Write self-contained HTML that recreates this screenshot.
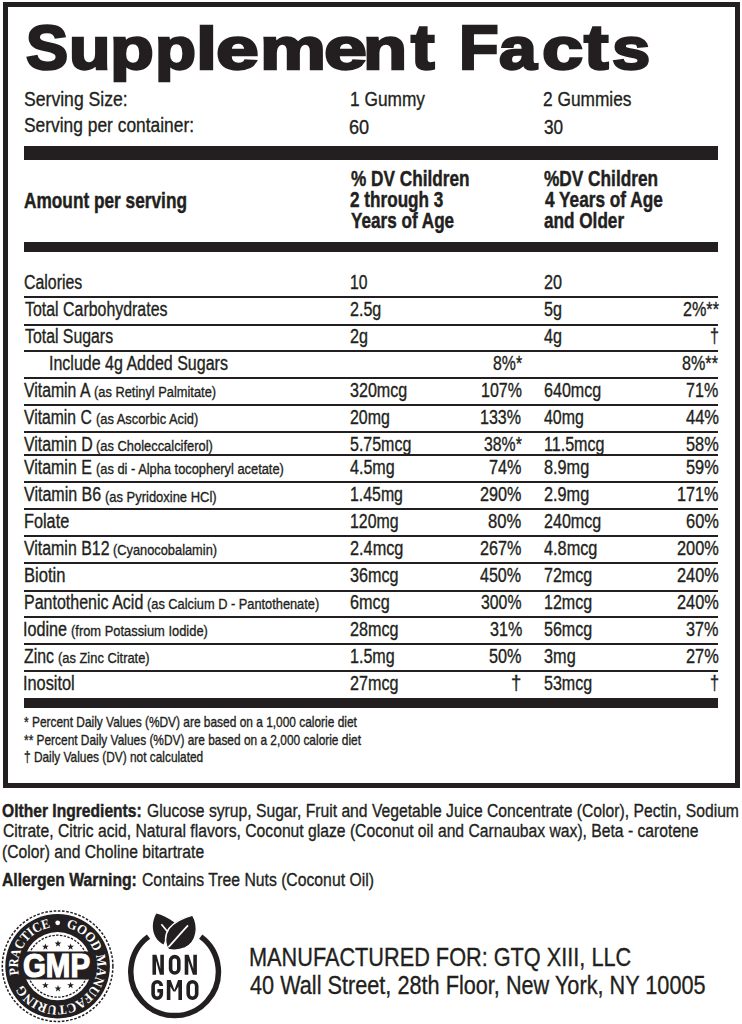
<!DOCTYPE html>
<html><head><meta charset="utf-8">
<style>
html,body{margin:0;padding:0;background:#fff;}
body{width:742px;height:1024px;position:relative;overflow:hidden;font-family:"Liberation Sans",sans-serif;color:#231f20;}
.t{position:absolute;white-space:nowrap;transform-origin:0 0;line-height:1;}
.b{font-weight:700;}
.r{position:absolute;background:#231f20;}
</style></head><body>

<div style="position:absolute;left:3px;top:2px;width:737px;height:786px;box-sizing:border-box;border:5px solid #231f20;"></div>
<div class="r" style="left:24px;top:146px;width:694px;height:14px;"></div>
<div class="r" style="left:24px;top:242px;width:694px;height:10px;"></div>
<div class="r" style="left:24px;top:698px;width:694px;height:10px;"></div>
<div class="r" style="left:24px;top:296.4px;width:694px;height:2px;"></div>
<div class="r" style="left:24px;top:323.7px;width:694px;height:2px;"></div>
<div class="r" style="left:24px;top:350.1px;width:694px;height:2px;"></div>
<div class="r" style="left:24px;top:377.4px;width:694px;height:2px;"></div>
<div class="r" style="left:24px;top:404.4px;width:694px;height:2px;"></div>
<div class="r" style="left:24px;top:431.3px;width:694px;height:2px;"></div>
<div class="r" style="left:24px;top:454.3px;width:694px;height:2px;"></div>
<div class="r" style="left:24px;top:481.4px;width:694px;height:2px;"></div>
<div class="r" style="left:24px;top:508.4px;width:694px;height:2px;"></div>
<div class="r" style="left:24px;top:535.3px;width:694px;height:2px;"></div>
<div class="r" style="left:24px;top:562.3px;width:694px;height:2px;"></div>
<div class="r" style="left:24px;top:589.5px;width:694px;height:2px;"></div>
<div class="r" style="left:24px;top:616.4px;width:694px;height:2px;"></div>
<div class="r" style="left:24px;top:643.3px;width:694px;height:2px;"></div>
<div class="r" style="left:24px;top:670.3px;width:694px;height:2px;"></div>
<div id="i0" class="t b" style="left:25.75px;top:15.53px;font-size:62.50px;transform:scaleX(1.0106);-webkit-text-stroke:2.50px #231f20;">S</div>
<div id="i1" class="t b" style="left:68.54px;top:15.53px;font-size:62.50px;transform:scale(1.0869,0.9500);transform-origin:0 52.92px;-webkit-text-stroke:2.50px #231f20;">u</div>
<div id="i2" class="t b" style="left:110.25px;top:15.53px;font-size:62.50px;transform:scale(1.1485,0.9500);transform-origin:0 52.92px;-webkit-text-stroke:2.50px #231f20;">p</div>
<div id="i3" class="t b" style="left:155.45px;top:15.53px;font-size:62.50px;transform:scale(1.0753,0.9500);transform-origin:0 52.92px;-webkit-text-stroke:2.50px #231f20;">p</div>
<div id="i4" class="t b" style="left:196.37px;top:15.53px;font-size:62.50px;transform:scale(1.2093,0.9500);transform-origin:0 52.92px;-webkit-text-stroke:2.50px #231f20;">l</div>
<div id="i5" class="t b" style="left:216.09px;top:15.53px;font-size:62.50px;transform:scale(1.2321,0.9500);transform-origin:0 52.92px;-webkit-text-stroke:2.50px #231f20;">e</div>
<div id="i6" class="t b" style="left:259.83px;top:15.53px;font-size:62.50px;transform:scale(1.1888,0.9500);transform-origin:0 52.92px;-webkit-text-stroke:2.50px #231f20;">m</div>
<div id="i7" class="t b" style="left:323.51px;top:15.53px;font-size:62.50px;transform:scale(1.2339,0.9500);transform-origin:0 52.92px;-webkit-text-stroke:2.50px #231f20;">e</div>
<div id="i8" class="t b" style="left:362.60px;top:15.53px;font-size:62.50px;transform:scale(1.1560,0.9500);transform-origin:0 52.92px;-webkit-text-stroke:2.50px #231f20;">n</div>
<div id="i9" class="t b" style="left:410.57px;top:15.53px;font-size:62.50px;transform:scaleX(1.1319);-webkit-text-stroke:2.50px #231f20;">t</div>
<div id="i10" class="t b" style="left:458.75px;top:15.53px;font-size:62.50px;transform:scaleX(1.0373);-webkit-text-stroke:2.50px #231f20;">F</div>
<div id="i11" class="t b" style="left:499.37px;top:15.53px;font-size:62.50px;transform:scale(1.0888,0.9500);transform-origin:0 52.92px;-webkit-text-stroke:2.50px #231f20;">a</div>
<div id="i12" class="t b" style="left:542.21px;top:15.53px;font-size:62.50px;transform:scale(1.1838,0.9500);transform-origin:0 52.92px;-webkit-text-stroke:2.50px #231f20;">c</div>
<div id="i13" class="t b" style="left:584.01px;top:15.53px;font-size:62.50px;transform:scaleX(1.1775);-webkit-text-stroke:2.50px #231f20;">t</div>
<div id="i14" class="t b" style="left:611.76px;top:15.53px;font-size:62.50px;transform:scale(1.1019,0.9500);transform-origin:0 52.92px;-webkit-text-stroke:2.50px #231f20;">s</div>
<div id="i15" class="t" style="left:23.65px;top:87.52px;font-size:21.00px;transform:scaleX(0.8382);-webkit-text-stroke:0.35px #231f20;">Serving Size:</div>
<div id="i16" class="t" style="left:24.08px;top:113.92px;font-size:21.00px;transform:scaleX(0.8276);-webkit-text-stroke:0.35px #231f20;">Serving per container:</div>
<div id="i17" class="t" style="left:349.92px;top:87.82px;font-size:21.00px;transform:scaleX(0.8237);-webkit-text-stroke:0.35px #231f20;">1 Gummy</div>
<div id="i18" class="t" style="left:349.04px;top:115.72px;font-size:21.00px;transform:scaleX(0.8621);-webkit-text-stroke:0.35px #231f20;">60</div>
<div id="i19" class="t" style="left:543.16px;top:87.82px;font-size:21.00px;transform:scaleX(0.8239);-webkit-text-stroke:0.35px #231f20;">2 Gummies</div>
<div id="i20" class="t" style="left:544.36px;top:115.72px;font-size:21.00px;transform:scaleX(0.8203);-webkit-text-stroke:0.35px #231f20;">30</div>
<div id="i21" class="t b" style="left:24.37px;top:189.61px;font-size:21.60px;transform:scaleX(0.7991);-webkit-text-stroke:0.45px #231f20;">Amount per serving</div>
<div id="i22" class="t b" style="left:350.62px;top:168.41px;font-size:21.60px;transform:scaleX(0.7971);-webkit-text-stroke:0.45px #231f20;">% DV Children</div>
<div id="i23" class="t b" style="left:350.37px;top:189.11px;font-size:21.60px;transform:scaleX(0.7941);-webkit-text-stroke:0.45px #231f20;">2 through 3</div>
<div id="i24" class="t b" style="left:350.69px;top:210.21px;font-size:21.60px;transform:scaleX(0.7932);-webkit-text-stroke:0.45px #231f20;">Years of Age</div>
<div id="i25" class="t b" style="left:544.42px;top:168.41px;font-size:21.60px;transform:scaleX(0.7989);-webkit-text-stroke:0.45px #231f20;">%DV Children</div>
<div id="i26" class="t b" style="left:544.63px;top:189.11px;font-size:21.60px;transform:scaleX(0.7976);-webkit-text-stroke:0.45px #231f20;">4 Years of Age</div>
<div id="i27" class="t b" style="left:544.29px;top:210.21px;font-size:21.60px;transform:scaleX(0.7946);-webkit-text-stroke:0.45px #231f20;">and Older</div>
<div id="i28" class="t" style="left:23.84px;top:273.10px;font-size:19.60px;transform:scaleX(0.8114);-webkit-text-stroke:0.35px #231f20;">Calories</div>
<div id="i29" class="t" style="left:350.00px;top:273.40px;font-size:19.60px;transform:scaleX(0.8022);-webkit-text-stroke:0.35px #231f20;">10</div>
<div id="i30" class="t" style="left:543.80px;top:273.40px;font-size:19.60px;transform:scaleX(0.8276);-webkit-text-stroke:0.35px #231f20;">20</div>
<div id="i31" class="t" style="left:24.67px;top:300.10px;font-size:19.60px;transform:scaleX(0.8124);-webkit-text-stroke:0.35px #231f20;">Total Carbohydrates</div>
<div id="i32" class="t" style="left:350.00px;top:300.40px;font-size:19.60px;transform:scaleX(0.8200);-webkit-text-stroke:0.35px #231f20;">2.5g</div>
<div id="i33" class="t" style="left:543.80px;top:300.40px;font-size:19.60px;transform:scaleX(0.8238);-webkit-text-stroke:0.35px #231f20;">5g</div>
<div id="i34" class="t" style="left:682.68px;top:300.40px;font-size:19.60px;transform:scaleX(0.8248);-webkit-text-stroke:0.35px #231f20;">2%**</div>
<div id="i35" class="t" style="left:24.67px;top:327.00px;font-size:19.60px;transform:scaleX(0.8084);-webkit-text-stroke:0.35px #231f20;">Total Sugars</div>
<div id="i36" class="t" style="left:350.00px;top:327.30px;font-size:19.60px;transform:scaleX(0.8244);-webkit-text-stroke:0.35px #231f20;">2g</div>
<div id="i37" class="t" style="left:543.80px;top:327.30px;font-size:19.60px;transform:scaleX(0.8238);-webkit-text-stroke:0.35px #231f20;">4g</div>
<div id="i38" class="t" style="left:710.23px;top:327.30px;font-size:19.60px;transform:scaleX(0.8177);-webkit-text-stroke:0.35px #231f20;">†</div>
<div id="i39" class="t" style="left:49.48px;top:354.10px;font-size:19.60px;transform:scaleX(0.8170);-webkit-text-stroke:0.35px #231f20;">Include 4g Added Sugars</div>
<div id="i40" class="t" style="left:492.68px;top:354.40px;font-size:19.60px;transform:scaleX(0.8080);-webkit-text-stroke:0.35px #231f20;">8%*</div>
<div id="i41" class="t" style="left:681.86px;top:354.40px;font-size:19.60px;transform:scaleX(0.8246);-webkit-text-stroke:0.35px #231f20;">8%**</div>
<div id="i42" class="t" style="left:24.03px;top:380.90px;font-size:19.60px;transform:scaleX(0.8060);-webkit-text-stroke:0.35px #231f20;">Vitamin A</div>
<div id="i43" class="t" style="left:94.27px;top:384.38px;font-size:15.50px;transform:scaleX(0.8286);-webkit-text-stroke:0.35px #231f20;">(as Retinyl Palmitate)</div>
<div id="i44" class="t" style="left:350.00px;top:381.20px;font-size:19.60px;transform:scaleX(0.8211);-webkit-text-stroke:0.35px #231f20;">320mcg</div>
<div id="i45" class="t" style="left:480.86px;top:381.20px;font-size:19.60px;transform:scaleX(0.8153);-webkit-text-stroke:0.35px #231f20;">107%</div>
<div id="i46" class="t" style="left:543.80px;top:381.20px;font-size:19.60px;transform:scaleX(0.8209);-webkit-text-stroke:0.35px #231f20;">640mcg</div>
<div id="i47" class="t" style="left:686.47px;top:381.20px;font-size:19.60px;transform:scaleX(0.8204);-webkit-text-stroke:0.35px #231f20;">71%</div>
<div id="i48" class="t" style="left:24.04px;top:407.80px;font-size:19.60px;transform:scaleX(0.8018);-webkit-text-stroke:0.35px #231f20;">Vitamin C</div>
<div id="i49" class="t" style="left:95.87px;top:411.28px;font-size:15.50px;transform:scaleX(0.8302);-webkit-text-stroke:0.35px #231f20;">(as Ascorbic Acid)</div>
<div id="i50" class="t" style="left:350.00px;top:408.10px;font-size:19.60px;transform:scaleX(0.8135);-webkit-text-stroke:0.35px #231f20;">20mg</div>
<div id="i51" class="t" style="left:479.85px;top:408.10px;font-size:19.60px;transform:scaleX(0.8188);-webkit-text-stroke:0.35px #231f20;">133%</div>
<div id="i52" class="t" style="left:543.80px;top:408.10px;font-size:19.60px;transform:scaleX(0.8133);-webkit-text-stroke:0.35px #231f20;">40mg</div>
<div id="i53" class="t" style="left:685.62px;top:408.10px;font-size:19.60px;transform:scaleX(0.8430);-webkit-text-stroke:0.35px #231f20;">44%</div>
<div id="i54" class="t" style="left:24.04px;top:434.80px;font-size:19.60px;transform:scaleX(0.8115);-webkit-text-stroke:0.35px #231f20;">Vitamin D</div>
<div id="i55" class="t" style="left:95.87px;top:438.28px;font-size:15.50px;transform:scaleX(0.8322);-webkit-text-stroke:0.35px #231f20;">(as Choleccalciferol)</div>
<div id="i56" class="t" style="left:350.00px;top:435.10px;font-size:19.60px;transform:scaleX(0.8154);-webkit-text-stroke:0.35px #231f20;">5.75mcg</div>
<div id="i57" class="t" style="left:483.84px;top:435.10px;font-size:19.60px;transform:scaleX(0.8080);-webkit-text-stroke:0.35px #231f20;">38%*</div>
<div id="i58" class="t" style="left:543.80px;top:435.10px;font-size:19.60px;transform:scaleX(0.8211);-webkit-text-stroke:0.35px #231f20;">11.5mcg</div>
<div id="i59" class="t" style="left:685.98px;top:435.10px;font-size:19.60px;transform:scaleX(0.8343);-webkit-text-stroke:0.35px #231f20;">58%</div>
<div id="i60" class="t" style="left:24.04px;top:457.80px;font-size:19.60px;transform:scaleX(0.8117);-webkit-text-stroke:0.35px #231f20;">Vitamin E</div>
<div id="i61" class="t" style="left:95.87px;top:461.28px;font-size:15.50px;transform:scaleX(0.8290);-webkit-text-stroke:0.35px #231f20;">(as di - Alpha tocopheryl acetate)</div>
<div id="i62" class="t" style="left:350.00px;top:458.10px;font-size:19.60px;transform:scaleX(0.8214);-webkit-text-stroke:0.35px #231f20;">4.5mg</div>
<div id="i63" class="t" style="left:489.25px;top:458.10px;font-size:19.60px;transform:scaleX(0.8276);-webkit-text-stroke:0.35px #231f20;">74%</div>
<div id="i64" class="t" style="left:543.80px;top:458.10px;font-size:19.60px;transform:scaleX(0.8297);-webkit-text-stroke:0.35px #231f20;">8.9mg</div>
<div id="i65" class="t" style="left:685.98px;top:458.10px;font-size:19.60px;transform:scaleX(0.8343);-webkit-text-stroke:0.35px #231f20;">59%</div>
<div id="i66" class="t" style="left:24.04px;top:485.10px;font-size:19.60px;transform:scaleX(0.8179);-webkit-text-stroke:0.35px #231f20;">Vitamin B6</div>
<div id="i67" class="t" style="left:105.26px;top:488.58px;font-size:15.50px;transform:scaleX(0.8357);-webkit-text-stroke:0.35px #231f20;">(as Pyridoxine HCl)</div>
<div id="i68" class="t" style="left:350.00px;top:485.40px;font-size:19.60px;transform:scaleX(0.8097);-webkit-text-stroke:0.35px #231f20;">1.45mg</div>
<div id="i69" class="t" style="left:480.27px;top:485.40px;font-size:19.60px;transform:scaleX(0.8264);-webkit-text-stroke:0.35px #231f20;">290%</div>
<div id="i70" class="t" style="left:543.80px;top:485.40px;font-size:19.60px;transform:scaleX(0.8297);-webkit-text-stroke:0.35px #231f20;">2.9mg</div>
<div id="i71" class="t" style="left:677.44px;top:485.40px;font-size:19.60px;transform:scaleX(0.8263);-webkit-text-stroke:0.35px #231f20;">171%</div>
<div id="i72" class="t" style="left:23.71px;top:512.00px;font-size:19.60px;transform:scaleX(0.8304);-webkit-text-stroke:0.35px #231f20;">Folate</div>
<div id="i73" class="t" style="left:350.00px;top:512.30px;font-size:19.60px;transform:scaleX(0.8105);-webkit-text-stroke:0.35px #231f20;">120mg</div>
<div id="i74" class="t" style="left:488.43px;top:512.30px;font-size:19.60px;transform:scaleX(0.8474);-webkit-text-stroke:0.35px #231f20;">80%</div>
<div id="i75" class="t" style="left:543.80px;top:512.30px;font-size:19.60px;transform:scaleX(0.8209);-webkit-text-stroke:0.35px #231f20;">240mcg</div>
<div id="i76" class="t" style="left:685.81px;top:512.30px;font-size:19.60px;transform:scaleX(0.8380);-webkit-text-stroke:0.35px #231f20;">60%</div>
<div id="i77" class="t" style="left:24.04px;top:539.00px;font-size:19.60px;transform:scaleX(0.8118);-webkit-text-stroke:0.35px #231f20;">Vitamin B12</div>
<div id="i78" class="t" style="left:113.27px;top:542.48px;font-size:15.50px;transform:scaleX(0.8271);-webkit-text-stroke:0.35px #231f20;">(Cyanocobalamin)</div>
<div id="i79" class="t" style="left:350.00px;top:539.30px;font-size:19.60px;transform:scaleX(0.8315);-webkit-text-stroke:0.35px #231f20;">2.4mcg</div>
<div id="i80" class="t" style="left:480.27px;top:539.30px;font-size:19.60px;transform:scaleX(0.8264);-webkit-text-stroke:0.35px #231f20;">267%</div>
<div id="i81" class="t" style="left:543.80px;top:539.30px;font-size:19.60px;transform:scaleX(0.8311);-webkit-text-stroke:0.35px #231f20;">4.8mcg</div>
<div id="i82" class="t" style="left:676.85px;top:539.30px;font-size:19.60px;transform:scaleX(0.8344);-webkit-text-stroke:0.35px #231f20;">200%</div>
<div id="i83" class="t" style="left:23.67px;top:566.10px;font-size:19.60px;transform:scaleX(0.8457);-webkit-text-stroke:0.35px #231f20;">Biotin</div>
<div id="i84" class="t" style="left:350.00px;top:566.40px;font-size:19.60px;transform:scaleX(0.8239);-webkit-text-stroke:0.35px #231f20;">36mcg</div>
<div id="i85" class="t" style="left:480.03px;top:566.40px;font-size:19.60px;transform:scaleX(0.8191);-webkit-text-stroke:0.35px #231f20;">450%</div>
<div id="i86" class="t" style="left:543.80px;top:566.40px;font-size:19.60px;transform:scaleX(0.8201);-webkit-text-stroke:0.35px #231f20;">72mcg</div>
<div id="i87" class="t" style="left:676.85px;top:566.40px;font-size:19.60px;transform:scaleX(0.8344);-webkit-text-stroke:0.35px #231f20;">240%</div>
<div id="i88" class="t" style="left:23.73px;top:592.80px;font-size:19.60px;transform:scaleX(0.8173);-webkit-text-stroke:0.35px #231f20;">Pantothenic Acid</div>
<div id="i89" class="t" style="left:147.27px;top:596.28px;font-size:15.50px;transform:scaleX(0.8259);-webkit-text-stroke:0.35px #231f20;">(as Calcium D - Pantothenate)</div>
<div id="i90" class="t" style="left:350.00px;top:593.10px;font-size:19.60px;transform:scaleX(0.8276);-webkit-text-stroke:0.35px #231f20;">6mcg</div>
<div id="i91" class="t" style="left:481.24px;top:593.10px;font-size:19.60px;transform:scaleX(0.8078);-webkit-text-stroke:0.35px #231f20;">300%</div>
<div id="i92" class="t" style="left:543.80px;top:593.10px;font-size:19.60px;transform:scaleX(0.8201);-webkit-text-stroke:0.35px #231f20;">12mcg</div>
<div id="i93" class="t" style="left:676.85px;top:593.10px;font-size:19.60px;transform:scaleX(0.8344);-webkit-text-stroke:0.35px #231f20;">240%</div>
<div id="i94" class="t" style="left:23.45px;top:619.90px;font-size:19.60px;transform:scaleX(0.8254);-webkit-text-stroke:0.35px #231f20;">Iodine</div>
<div id="i95" class="t" style="left:71.27px;top:623.38px;font-size:15.50px;transform:scaleX(0.8318);-webkit-text-stroke:0.35px #231f20;">(from Potassium Iodide)</div>
<div id="i96" class="t" style="left:350.00px;top:620.20px;font-size:19.60px;transform:scaleX(0.8239);-webkit-text-stroke:0.35px #231f20;">28mcg</div>
<div id="i97" class="t" style="left:489.62px;top:620.20px;font-size:19.60px;transform:scaleX(0.8229);-webkit-text-stroke:0.35px #231f20;">31%</div>
<div id="i98" class="t" style="left:543.80px;top:620.20px;font-size:19.60px;transform:scaleX(0.8201);-webkit-text-stroke:0.35px #231f20;">56mcg</div>
<div id="i99" class="t" style="left:686.22px;top:620.20px;font-size:19.60px;transform:scaleX(0.8282);-webkit-text-stroke:0.35px #231f20;">37%</div>
<div id="i100" class="t" style="left:24.42px;top:646.80px;font-size:19.60px;transform:scaleX(0.8095);-webkit-text-stroke:0.35px #231f20;">Zinc</div>
<div id="i101" class="t" style="left:58.27px;top:650.28px;font-size:15.50px;transform:scaleX(0.8314);-webkit-text-stroke:0.35px #231f20;">(as Zinc Citrate)</div>
<div id="i102" class="t" style="left:350.00px;top:647.10px;font-size:19.60px;transform:scaleX(0.8214);-webkit-text-stroke:0.35px #231f20;">1.5mg</div>
<div id="i103" class="t" style="left:489.38px;top:647.10px;font-size:19.60px;transform:scaleX(0.8287);-webkit-text-stroke:0.35px #231f20;">50%</div>
<div id="i104" class="t" style="left:543.80px;top:647.10px;font-size:19.60px;transform:scaleX(0.8314);-webkit-text-stroke:0.35px #231f20;">3mg</div>
<div id="i105" class="t" style="left:685.85px;top:647.10px;font-size:19.60px;transform:scaleX(0.8370);-webkit-text-stroke:0.35px #231f20;">27%</div>
<div id="i106" class="t" style="left:23.43px;top:674.00px;font-size:19.60px;transform:scaleX(0.8336);-webkit-text-stroke:0.35px #231f20;">Inositol</div>
<div id="i107" class="t" style="left:350.00px;top:674.30px;font-size:19.60px;transform:scaleX(0.8239);-webkit-text-stroke:0.35px #231f20;">27mcg</div>
<div id="i108" class="t" style="left:511.47px;top:674.30px;font-size:19.60px;transform:scaleX(0.9472);-webkit-text-stroke:0.35px #231f20;">†</div>
<div id="i109" class="t" style="left:543.80px;top:674.30px;font-size:19.60px;transform:scaleX(0.8201);-webkit-text-stroke:0.35px #231f20;">53mcg</div>
<div id="i110" class="t" style="left:710.27px;top:674.30px;font-size:19.60px;transform:scaleX(0.8298);-webkit-text-stroke:0.35px #231f20;">†</div>
<div id="i111" class="t" style="left:24.40px;top:715.38px;font-size:14.20px;transform:scaleX(0.8397);-webkit-text-stroke:0.35px #231f20;">* Percent Daily Values (%DV) are based on a 1,000 calorie diet</div>
<div id="i112" class="t" style="left:24.40px;top:732.68px;font-size:14.20px;transform:scaleX(0.8383);-webkit-text-stroke:0.35px #231f20;">** Percent Daily Values (%DV) are based on a 2,000 calorie diet</div>
<div id="i113" class="t" style="left:24.30px;top:749.68px;font-size:14.20px;transform:scaleX(0.8366);-webkit-text-stroke:0.35px #231f20;">† Daily Values (DV) not calculated</div>
<div id="i114" class="t b" style="left:2.41px;top:801.44px;font-size:19.20px;transform:scaleX(0.8139);-webkit-text-stroke:0.45px #231f20;">Olther Ingredients:</div>
<div id="i115" class="t" style="left:147.27px;top:801.44px;font-size:19.20px;transform:scaleX(0.8174);-webkit-text-stroke:0.35px #231f20;">Glucose syrup, Sugar, Fruit and Vegetable Juice Concentrate (Color), Pectin, Sodium</div>
<div id="i116" class="t" style="left:3.07px;top:821.34px;font-size:19.20px;transform:scaleX(0.8173);-webkit-text-stroke:0.35px #231f20;">Citrate, Citric acid, Natural flavors, Coconut glaze (Coconut oil and Carnaubax wax), Beta - carotene</div>
<div id="i117" class="t" style="left:2.38px;top:841.64px;font-size:19.20px;transform:scaleX(0.8168);-webkit-text-stroke:0.35px #231f20;">(Color) and Choline bitartrate</div>
<div id="i118" class="t b" style="left:2.02px;top:870.24px;font-size:19.20px;transform:scaleX(0.8195);-webkit-text-stroke:0.45px #231f20;">Allergen Warning:</div>
<div id="i119" class="t" style="left:141.66px;top:870.24px;font-size:19.20px;transform:scaleX(0.8205);-webkit-text-stroke:0.35px #231f20;">Contains Tree Nuts (Coconut Oil)</div>
<div id="i120" class="t" style="left:248.55px;top:944.94px;font-size:25.70px;transform:scaleX(0.8448);-webkit-text-stroke:0.35px #231f20;">MANUFACTURED FOR: GTQ XIII, LLC</div>
<div id="i121" class="t" style="left:249.67px;top:973.34px;font-size:25.70px;transform:scaleX(0.8441);-webkit-text-stroke:0.35px #231f20;">40 Wall Street, 28th Floor, New York, NY 10005</div>
<svg style="position:absolute;left:0;top:0" width="742" height="1024" viewBox="0 0 742 1024">
<defs><path id="gmpc" d="M57.60,926.70 A39.50,39.50 0 1 1 57.60,1005.70 A39.50,39.50 0 1 1 57.60,926.70"/></defs>
<circle cx="57.6" cy="966.2" r="55.3" fill="none" stroke="#231f20" stroke-width="1.5" stroke-dasharray="2.6 1.6"/>
<circle cx="57.6" cy="966.2" r="52.3" fill="#231f20"/>
<circle cx="57.6" cy="966.2" r="34.1" fill="#fff"/>
<circle cx="57.6" cy="966.2" r="31.0" fill="none" stroke="#231f20" stroke-width="1.3" stroke-dasharray="2.4 1.4"/>
<rect x="20" y="951.5" width="75.2" height="28" fill="#231f20"/>
<text x="56.5" y="977.2" text-anchor="middle" font-family="Liberation Sans" font-weight="700" font-size="33.3" fill="#fff" stroke="#fff" stroke-width="1.2" transform="translate(56.5 0) scale(0.885 1) translate(-56.5 0)">GMP</text>
<circle cx="57.7" cy="922.8" r="2.4" fill="#fff"/>
<text font-family="Liberation Serif" font-weight="700" font-size="13.5" fill="#fff"><textPath href="#gmpc" startOffset="8.27" textLength="158.56" lengthAdjust="spacingAndGlyphs">GOOD MANUFACTURING</textPath></text>
<text font-family="Liberation Serif" font-weight="700" font-size="13.5" fill="#fff"><textPath href="#gmpc" startOffset="177.18" textLength="63.43" lengthAdjust="spacingAndGlyphs">PRACTICE</textPath></text>
<polygon points="45.40,943.40 46.26,945.71 48.73,945.82 46.80,947.35 47.46,949.73 45.40,948.37 43.34,949.73 44.00,947.35 42.07,945.82 44.54,945.71" fill="#231f20"/>
<polygon points="58.00,940.20 58.86,942.51 61.33,942.62 59.40,944.15 60.06,946.53 58.00,945.17 55.94,946.53 56.60,944.15 54.67,942.62 57.14,942.51" fill="#231f20"/>
<polygon points="70.60,943.40 71.46,945.71 73.93,945.82 72.00,947.35 72.66,949.73 70.60,948.37 68.54,949.73 69.20,947.35 67.27,945.82 69.74,945.71" fill="#231f20"/>
<polygon points="45.40,981.90 46.26,984.21 48.73,984.32 46.80,985.85 47.46,988.23 45.40,986.87 43.34,988.23 44.00,985.85 42.07,984.32 44.54,984.21" fill="#231f20"/>
<polygon points="58.00,985.10 58.86,987.41 61.33,987.52 59.40,989.05 60.06,991.43 58.00,990.07 55.94,991.43 56.60,989.05 54.67,987.52 57.14,987.41" fill="#231f20"/>
<polygon points="70.60,981.90 71.46,984.21 73.93,984.32 72.00,985.85 72.66,988.23 70.60,986.87 68.54,988.23 69.20,985.85 67.27,984.32 69.74,984.21" fill="#231f20"/>
<path d="M148.49,936.64 A43.80,43.80 0 1 0 200.71,936.64" fill="none" stroke="#231f20" stroke-width="5.5"/>
<path d="M156.3,913.5 C150.5,924 151.5,938 163.6,944.5 C167,936 169,928 174.5,922.5 C168,917.5 162,915 156.3,913.5 Z" fill="#231f20"/>
<path d="M192.7,915.1 C199,926 197.5,942 185,948 C179,950.5 173,950.5 168.5,949.5 C164.5,944 164.5,935 169,928.5 C175,921 184,917.5 192.7,915.1 Z" fill="#231f20" stroke="#fff" stroke-width="1.5"/>
<path d="M161.4,924.2 L167,931" stroke="#fff" stroke-width="1.7" fill="none"/>
<path d="M188,925.4 C181,933 174,941 168.4,947.2" stroke="#fff" stroke-width="1.7" fill="none"/>
<polygon points="152.45,974.80 152.45,954.80 156.45,954.80 160.30,968.80 160.30,954.80 163.90,954.80 163.90,974.80 159.90,974.80 156.05,960.80 156.05,974.80" fill="#231f20"/>
<rect x="170.60" y="956.60" width="8.20" height="16.40" rx="4.10" ry="4.10" fill="none" stroke="#231f20" stroke-width="3.60"/>
<polygon points="184.70,974.80 184.70,954.80 188.70,954.80 193.30,968.80 193.30,954.80 196.90,954.80 196.90,974.80 192.90,974.80 188.30,960.80 188.30,974.80" fill="#231f20"/>
<path d="M161.30,985.90 A4.10,4.10 0 0 0 153.10,985.90 L153.10,994.10 A4.10,4.10 0 0 0 161.30,994.10 L161.30,990.70 L157.40,990.70" fill="none" stroke="#231f20" stroke-width="3.60" stroke-linejoin="miter"/>
<polygon points="166.80,1000.00 166.80,980.00 170.70,980.00 174.40,990.00 178.10,980.00 182.00,980.00 182.00,1000.00 178.40,1000.00 178.40,986.40 175.40,991.60 173.40,991.60 170.40,986.40 170.40,1000.00" fill="#231f20"/>
<rect x="188.20" y="981.80" width="8.50" height="16.40" rx="4.25" ry="4.25" fill="none" stroke="#231f20" stroke-width="3.60"/>
</svg>
</body></html>
